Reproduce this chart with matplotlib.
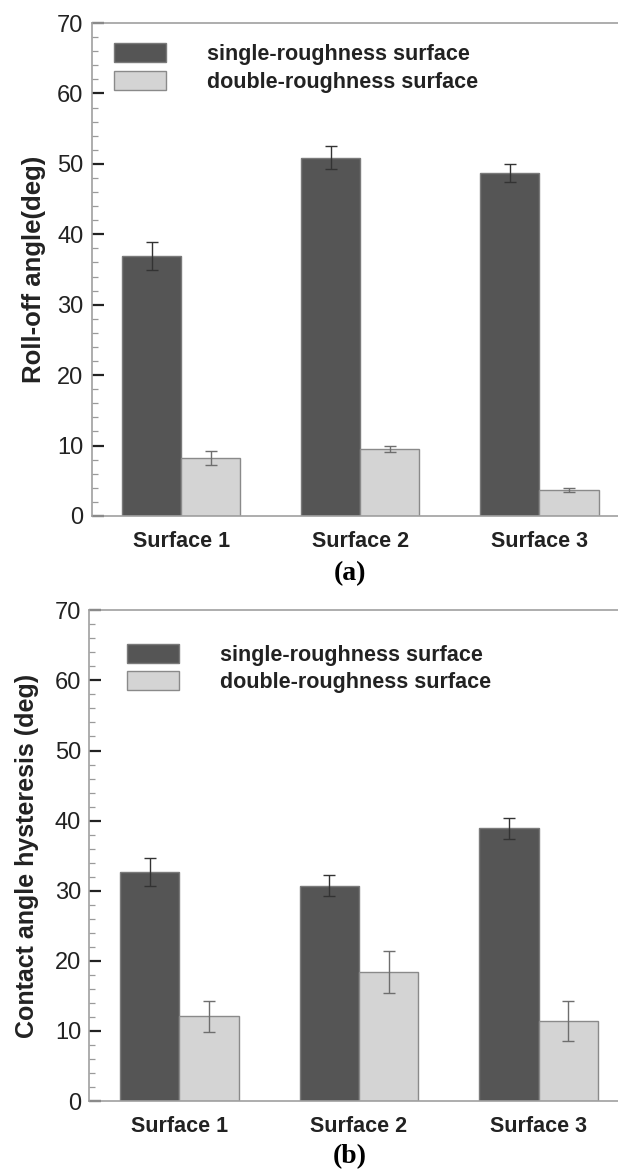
import numpy as np
import matplotlib
matplotlib.use("Agg")
import matplotlib.pyplot as plt
from matplotlib.ticker import MultipleLocator

plt.rcParams['font.family'] = ['Liberation Sans', 'DejaVu Sans']

categories = ['Surface 1', 'Surface 2', 'Surface 3']
series_names = ['single-roughness surface', 'double-roughness surface']

# (a) roll-off angle
roll_single = [36.9, 50.9, 48.7]
roll_single_err = [2.0, 1.6, 1.3]
roll_double = [8.3, 9.5, 3.7]
roll_double_err = [1.0, 0.4, 0.3]

# (b) contact angle hysteresis
hyst_single = [32.7, 30.7, 38.9]
hyst_single_err = [2.0, 1.5, 1.5]
hyst_double = [12.1, 18.4, 11.4]
hyst_double_err = [2.2, 3.0, 2.85]

dark = '#555555'
light = '#d4d4d4'
w = 0.33
x = np.arange(len(categories))

fig = plt.figure(figsize=(6.18, 11.72), dpi=100)


def panel(ax, single, single_err, double, double_err, ylabel, labelsize, labelpad, legend_pos):
    ax.bar(x - w / 2, single, w, color=dark, edgecolor='#7a7a7a', linewidth=1.0,
           label=series_names[0], zorder=2)
    ax.bar(x + w / 2, double, w, color=light, edgecolor='#8a8a8a', linewidth=1.0,
           label=series_names[1], zorder=2)
    ax.errorbar(x - w / 2, single, yerr=single_err, fmt='none', ecolor='#333333',
                elinewidth=1.0, capsize=4.2, capthick=1.0, zorder=3)
    ax.errorbar(x + w / 2, double, yerr=double_err, fmt='none', ecolor='#6e6e6e',
                elinewidth=1.0, capsize=4.2, capthick=1.0, zorder=3)

    ax.set_xlim(-0.5, 2.5)
    ax.set_ylim(0, 70)
    ax.yaxis.set_major_locator(MultipleLocator(10))
    ax.yaxis.set_minor_locator(MultipleLocator(2))
    ax.set_xticks(x)
    ax.set_xticklabels(categories, fontsize=15.5, fontweight='bold', color='#222222')
    ax.tick_params(axis='x', length=0, pad=11)
    ax.tick_params(axis='y', which='major', direction='in', length=8.6, width=1.6,
                   color='#222222', labelsize=17, pad=6, labelcolor='#222222')
    ax.tick_params(axis='y', which='minor', direction='in', length=4.6, width=0.9,
                   color='#9a9a9a')
    for s in ['left', 'top', 'bottom']:
        ax.spines[s].set_color('#a0a0a0')
        ax.spines[s].set_linewidth(1.2)
    ax.spines['right'].set_visible(False)
    ax.set_ylabel(ylabel, fontsize=labelsize, fontweight='bold', color='#222222',
                  labelpad=labelpad)

    ax.legend(loc='upper left', bbox_to_anchor=legend_pos, frameon=False,
              prop={'size': 15.5, 'weight': 'bold'}, borderpad=0, borderaxespad=0,
              handlelength=2.42, handleheight=1.0, handletextpad=1.9,
              labelspacing=0.25, labelcolor='#222222')


ax1 = fig.add_axes([91.7 / 618, 1 - 516 / 1172, (629 - 91.7) / 618, 493 / 1172])
panel(ax1, roll_single, roll_single_err, roll_double, roll_double_err,
      'Roll-off angle(deg)', 18.5, 8, (0.042, 0.959))

ax2 = fig.add_axes([89.4 / 618, 1 - 1101 / 1172, (628.7 - 89.4) / 618, 490.7 / 1172])
panel(ax2, hyst_single, hyst_single_err, hyst_double, hyst_double_err,
      'Contact angle hysteresis (deg)', 18, 11, (0.070, 0.932))

fig.text(350 / 618, 1 - 574 / 1172, '(a)', family='Liberation Serif', fontweight='bold',
         fontsize=20, ha='center', va='center')
fig.text(350 / 618, 1 - 1157 / 1172, '(b)', family='Liberation Serif', fontweight='bold',
         fontsize=20, ha='center', va='center')

fig.savefig('out.png', dpi=100)
